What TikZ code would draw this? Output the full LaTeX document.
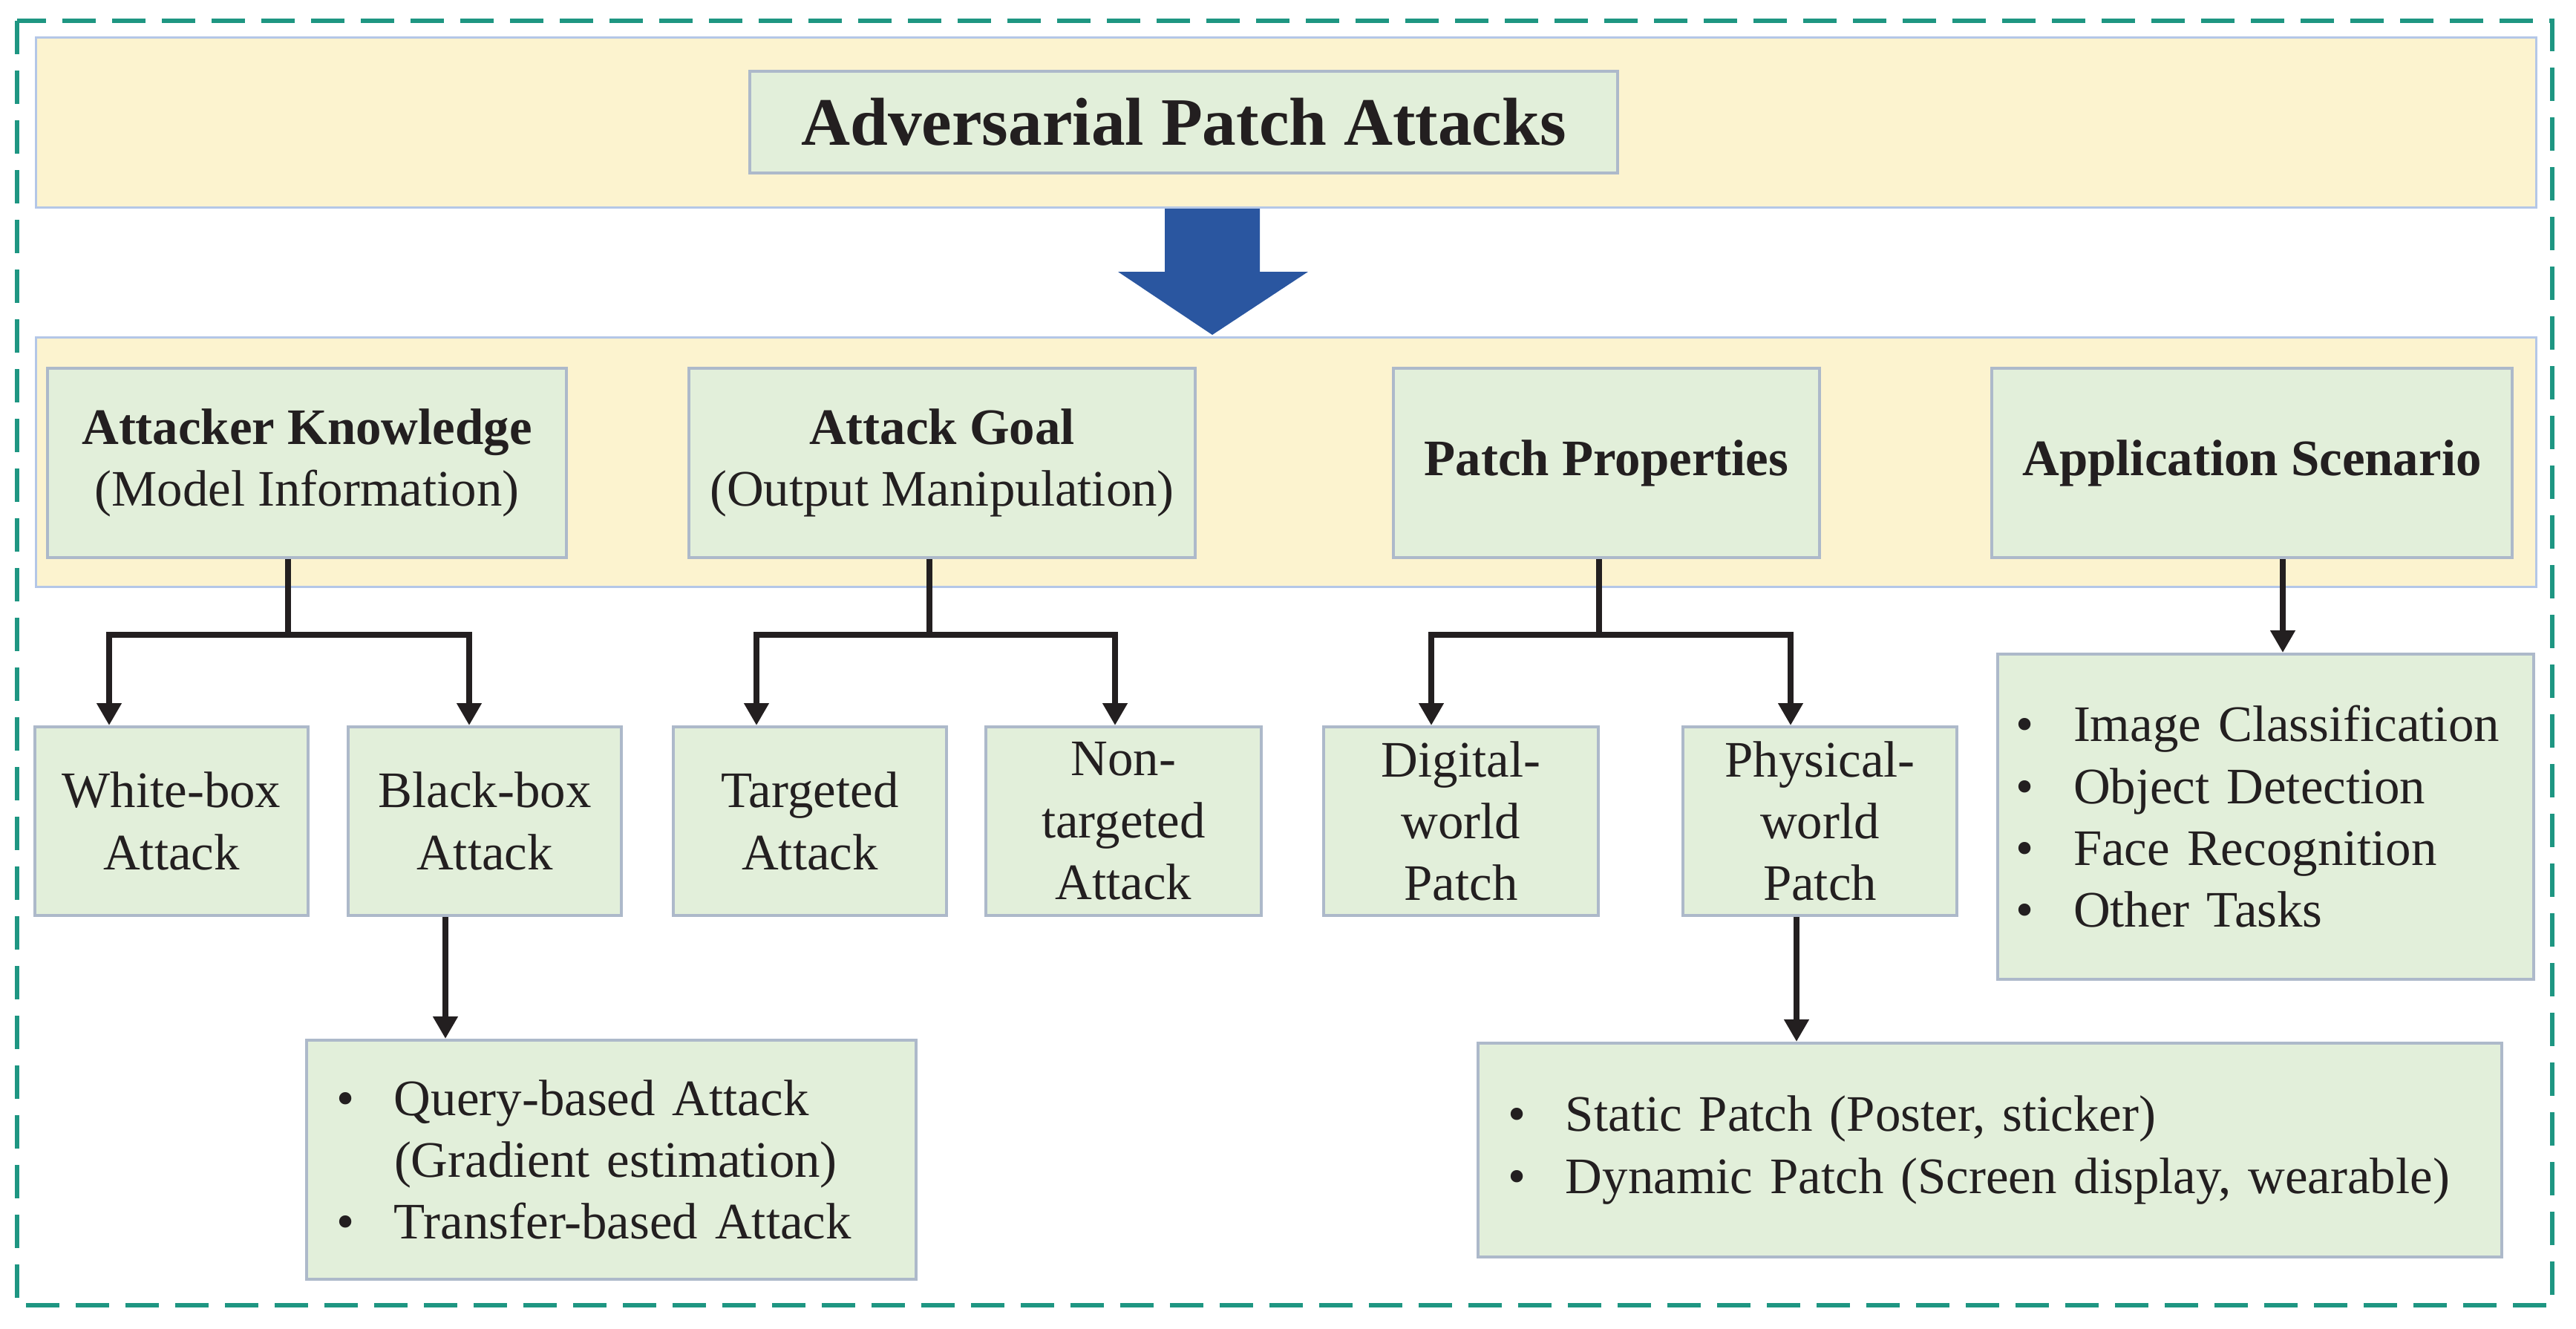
\documentclass[tikz,border=0pt]{standalone}
\usepackage{fontspec}
\setmainfont{Liberation Serif}
\usetikzlibrary{positioning, arrows.meta}
\definecolor{bandfill}{HTML}{FCF3CF}
\definecolor{bandline}{HTML}{B4C7E7}
\definecolor{boxfill}{HTML}{E2EFDA}
\definecolor{boxline}{HTML}{ADB9CA}
\definecolor{frameteal}{HTML}{1E9682}
\definecolor{bigblue}{HTML}{2A56A0}
\definecolor{linedark}{HTML}{231F20}
\newcommand{\bul}{\makebox[7.8mm][l]{\textbullet}}
\newcommand{\ind}{\hspace*{7.8mm}}
\hyphenpenalty=10000

\begin{document}
\begin{tikzpicture}[x=1mm, y=1mm, node distance=5mm,
  every node/.style={font=\fontsize{19.6}{23.7}\selectfont, text=linedark},
  band/.style={draw=bandline, line width=0.3mm, fill=bandfill, minimum width=336.7mm, inner sep=0pt},
  box/.style={draw=boxline, line width=0.4mm, fill=boxfill, align=center, minimum height=25.5mm, inner sep=1mm},
  leaf/.style={box, minimum width=36.8mm, minimum height=25.4mm, inner ysep=0.5mm},
  list/.style={box, align=left, inner xsep=4mm},
  conn/.style={draw=linedark, line width=0.75mm},
  arr/.style={conn, -{Triangle[length=3mm, width=3.2mm]}}]

\useasboundingbox (0,0) rectangle (347,-179);
\draw[frameteal, line width=0.6mm, dash pattern=on 4.5mm off 2.2mm] (2.3,-2.8) rectangle (343.8,-175.8);

% bands
\node[band, minimum height=22.9mm] (topband) at (173.25,-16.45) {};
\node[band, minimum height=33.6mm] (midband) at (173.25,-62.2) {};
\node[box, minimum width=116.9mm, minimum height=13.7mm, font=\fontsize{26}{30}\selectfont\bfseries] (title) at (159.45,-16.45) {Adversarial Patch Attacks};

% big arrow between the bands
\fill[bigblue] (156.9,-28.1) -- (169.7,-28.1) -- (169.7,-36.6) -- (176.2,-36.6) -- (163.3,-45.1) -- (150.6,-36.6) -- (156.9,-36.6) -- cycle;

% categories
\node[box, minimum width=69.9mm] (ak) at (41.35,-62.35) {\textbf{Attacker Knowledge}\\(Model Information)};
\node[box, minimum width=68.2mm, right=16.1mm of ak] (ag) {\textbf{Attack Goal}\\(Output Manipulation)};
\node[box, minimum width=57.4mm, right=26.3mm of ag] (pp) {\textbf{Patch Properties}};
\node[box, minimum width=70.1mm, right=22.8mm of pp] (as) {\textbf{Application Scenario}};

% leaves
\node[leaf] (wb) at (23.1,-110.6) {White-box\\Attack};
\node[leaf, right=5mm of wb] (bb) {Black-box\\Attack};
\node[leaf, right=6.6mm of bb] (tg) {Targeted\\Attack};
\node[leaf, minimum width=37.1mm, right=4.9mm of tg] (nt) {Non-\\targeted\\Attack};
\node[leaf, minimum width=37mm, right=8mm of nt] (dw) {Digital-\\world\\Patch};
\node[leaf, minimum width=36.9mm, right=11mm of dw] (pw) {Physical-\\world\\Patch};

% lists
\node[list, text width=67.4mm, inner xsep=2.4mm, minimum height=43.8mm] (asl) at (305.2,-110) {\bul Image Classification\\ \bul Object Detection\\ \bul Face Recognition\\ \bul Other Tasks};
\node[list, text width=74.1mm, minimum height=32.2mm] (qb) at (82.35,-156.2) {\bul Query-based Attack\\ \ind(Gradient estimation)\\ \bul Transfer-based Attack};
\node[list, text width=129.9mm, minimum height=28.8mm] (sb) at (268.05,-154.9) {\bul Static Patch (Poster, sticker)\\ \bul Dynamic Patch (Screen display, wearable)};

% connectors
\coordinate (akj) at (38.8,-85.5);
\coordinate (agj) at (125.2,-85.5);
\coordinate (ppj) at (215.4,-85.5);
\coordinate (asj) at (307.5,-80);
\coordinate (bbj) at (60,-130);
\coordinate (pwj) at (242,-130);
\draw[conn] (ak.south -| akj) -- (akj);
\draw[arr] (akj) -| ([xshift=10.2mm]wb.north west);
\draw[arr] (akj) -| ([xshift=16.5mm]bb.north west);
\draw[conn] (ag.south -| agj) -- (agj);
\draw[arr] (agj) -| ([xshift=11.4mm]tg.north west);
\draw[arr] (agj) -| ([xshift=17.6mm]nt.north west);
\draw[conn] (pp.south -| ppj) -- (ppj);
\draw[arr] (ppj) -| ([xshift=14.7mm]dw.north west);
\draw[arr] (ppj) -| ([xshift=14.7mm]pw.north west);
\draw[arr] (as.south -| asj) -- (asl.north -| asj);
\draw[arr] (bb.south -| bbj) -- (qb.north -| bbj);
\draw[arr] (pw.south -| pwj) -- (sb.north -| pwj);
\end{tikzpicture}
\end{document}
